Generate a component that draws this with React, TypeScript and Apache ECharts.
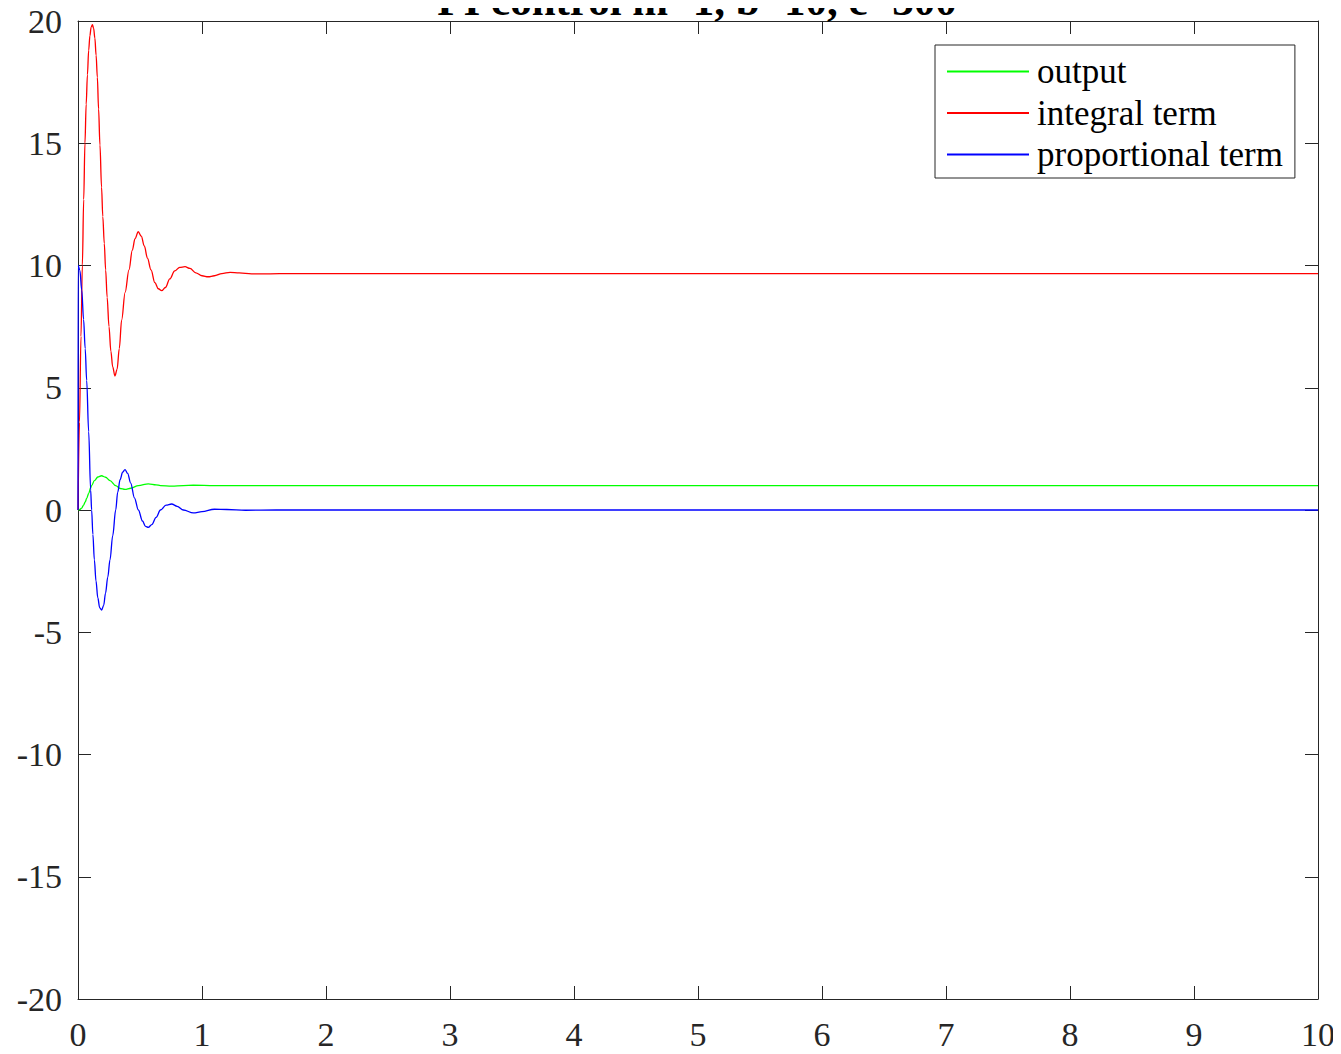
import React, { useEffect, useRef } from "react";
import * as echarts from "echarts";

const titleText = "PI control m=1, b=10, c=300";
const legendNames = ["output", "integral term", "proportional term"];
const xTicks = [0, 1, 2, 3, 4, 5, 6, 7, 8, 9, 10];

const tOutput = [0, 0.015, 0.03, 0.045, 0.058, 0.07, 0.086, 0.102, 0.11, 0.132, 0.16, 0.19, 0.222, 0.258, 0.304, 0.34, 0.379, 0.425, 0.487, 0.567, 0.63, 0.665, 0.755, 0.85, 0.93, 1.1, 1.3, 10];
const vOutput = [0, 0.02, 0.08, 0.2, 0.33, 0.47, 0.68, 0.91, 1.0, 1.2, 1.35, 1.4, 1.34, 1.2, 1.0, 0.88, 0.84, 0.89, 1.0, 1.07, 1.03, 1.0, 0.976, 1.0, 1.012, 0.997, 1.0, 1.0];

const tIntegral = [0, 0.012, 0.024, 0.035, 0.046, 0.056, 0.066, 0.076, 0.086, 0.096, 0.106, 0.116, 0.126, 0.136, 0.146, 0.156, 0.166, 0.177, 0.19, 0.2, 0.212, 0.223, 0.235, 0.25, 0.265, 0.28, 0.298, 0.315, 0.333, 0.352, 0.38, 0.411, 0.438, 0.46, 0.486, 0.51, 0.535, 0.56, 0.589, 0.62, 0.648, 0.675, 0.705, 0.74, 0.78, 0.82, 0.863, 0.903, 0.95, 1.0, 1.05, 1.1, 1.16, 1.226, 1.3, 1.4, 1.55, 1.7, 2.0, 10];
const vIntegral = [0, 3.6, 7.1, 10, 12.7, 15, 16.6, 17.8, 18.8, 19.4, 19.75, 19.85, 19.7, 19.3, 18.6, 17.7, 16.4, 14.93, 13.2, 12.0, 10.9, 9.82, 8.7, 7.5, 6.5, 5.85, 5.48, 5.75, 6.6, 7.77, 8.9, 9.82, 10.63, 11.1, 11.38, 11.2, 10.8, 10.3, 9.82, 9.3, 9.05, 8.97, 9.1, 9.45, 9.78, 9.92, 9.95, 9.88, 9.7, 9.58, 9.54, 9.58, 9.67, 9.72, 9.7, 9.66, 9.66, 9.67, 9.67, 9.67];

const tProportional = [0, 0.001, 0.015, 0.03, 0.045, 0.058, 0.07, 0.086, 0.102, 0.11, 0.12, 0.132, 0.145, 0.16, 0.175, 0.191, 0.207, 0.222, 0.24, 0.258, 0.28, 0.304, 0.32, 0.34, 0.36, 0.379, 0.4, 0.425, 0.455, 0.487, 0.52, 0.545, 0.567, 0.595, 0.63, 0.665, 0.71, 0.755, 0.8, 0.85, 0.93, 1.0, 1.1, 1.2, 1.35, 1.6, 10];
const vProportional = [0, 10, 9.8, 9.0, 7.8, 6.6, 5.3, 3.2, 0.82, 0, -1.0, -2.04, -2.9, -3.6, -4.0, -4.09, -3.9, -3.4, -2.75, -2.04, -1.05, 0, 0.72, 1.25, 1.55, 1.65, 1.5, 1.1, 0.5, 0, -0.45, -0.67, -0.71, -0.6, -0.3, 0, 0.2, 0.245, 0.15, 0, -0.12, -0.07, 0.03, 0.02, -0.01, 0, 0];

const pairs = (t: number[], v: number[]) => t.map((x, i) => [x, v[i]]);

const SERIF = '"Liberation Serif", "Times New Roman", serif';
const AXIS_COLOR = "#262626";

export default function App() {
  const ref = useRef<HTMLDivElement>(null);
  useEffect(() => {
    if (!ref.current) return;
    const chart = echarts.init(ref.current, undefined, { renderer: "svg" });
    const axisCommon = {
      type: "value" as const,
      axisLine: { show: true, onZero: false, lineStyle: { color: AXIS_COLOR, width: 1 } },
      axisTick: { show: true, inside: true, length: 13, lineStyle: { color: AXIS_COLOR } },
      splitLine: { show: false },
    };
    const lineSeries = (name: string, data: number[][], color: string) => ({
      name,
      type: "line",
      data,
      symbol: "none",
      smooth: 0.35,
      smoothMonotone: "x",
      lineStyle: { color, width: 1.3 },
      itemStyle: { color },
      xAxisIndex: 0,
      yAxisIndex: 0,
    });
    chart.setOption({
      animation: false,
      backgroundColor: "#ffffff",
      grid: { left: 78, top: 21, right: 23, bottom: 55, containLabel: false },
      graphic: [
        {
          type: "text",
          x: 697,
          y: 22,
          style: {
            text: titleText,
            textAlign: "center",
            textVerticalAlign: "bottom",
            font: `bold 43px ${SERIF}`,
            fill: "#000000",
          },
          z: 10,
        },
      ],
      legend: {
        orient: "vertical",
        left: 935,
        top: 45,
        data: legendNames,
        backgroundColor: "#ffffff",
        borderColor: AXIS_COLOR,
        borderWidth: 1,
        borderRadius: 0,
        padding: [9, 12, 6, 11],
        itemWidth: 82,
        itemHeight: 20,
        itemGap: 6.5,
        itemStyle: { opacity: 0 },
        textStyle: {
          fontFamily: SERIF,
          fontSize: 35,
          color: "#000000",
          lineHeight: 34,
          padding: [0, 0, 0, 3],
        },
      },
      xAxis: [
        {
          ...axisCommon,
          min: 0,
          max: 10,
          interval: 1,
          position: "bottom",
          axisLabel: {
            show: true,
            fontFamily: SERIF,
            fontSize: 34,
            color: AXIS_COLOR,
            margin: 18,
            formatter: (v: number) => (xTicks.includes(v) ? String(v) : ""),
          },
        },
        {
          ...axisCommon,
          min: 0,
          max: 10,
          interval: 1,
          position: "top",
          axisLabel: { show: false },
        },
      ],
      yAxis: [
        {
          ...axisCommon,
          min: -20,
          max: 20,
          interval: 5,
          position: "left",
          axisLabel: {
            show: true,
            fontFamily: SERIF,
            fontSize: 34,
            color: AXIS_COLOR,
            margin: 16,
          },
        },
        {
          ...axisCommon,
          min: -20,
          max: 20,
          interval: 5,
          position: "right",
          axisLabel: { show: false },
        },
      ],
      series: [
        lineSeries(legendNames[0], pairs(tOutput, vOutput), "#00ff00"),
        lineSeries(legendNames[1], pairs(tIntegral, vIntegral), "#ff0000"),
        lineSeries(legendNames[2], pairs(tProportional, vProportional), "#0000ff"),
      ],
    });
    return () => chart.dispose();
  }, []);
  return <div ref={ref} style={{ width: 1341, height: 1054, margin: -8 }} />;
}
